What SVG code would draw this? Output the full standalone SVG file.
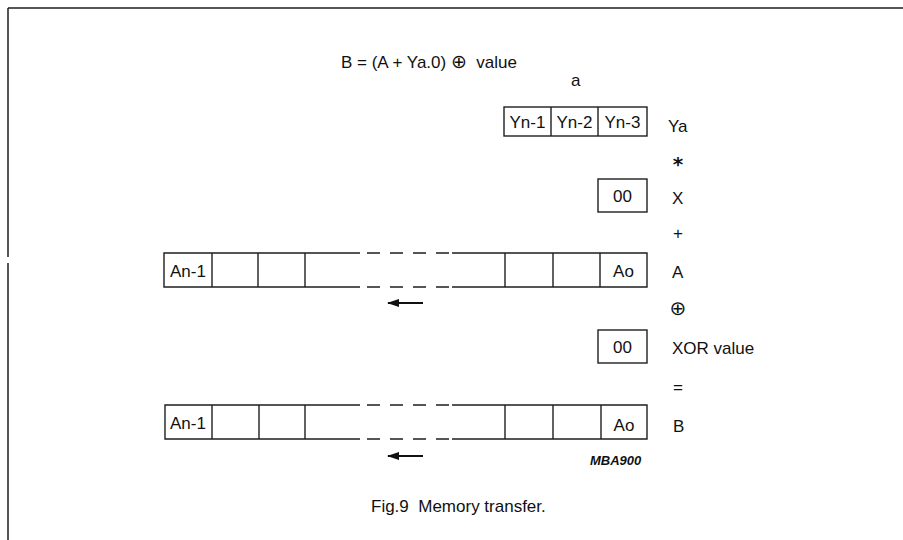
<svg xmlns="http://www.w3.org/2000/svg" width="903" height="540" viewBox="0 0 903 540">
<style>
  .frame { stroke: #1e1e1e; stroke-width: 1.5; fill: none; }
  .box { stroke: #1e1e1e; stroke-width: 1.4; fill: #ffffff; }
  .ln { stroke: #1e1e1e; stroke-width: 1.4; fill: none; }
  .dash { stroke: #1e1e1e; stroke-width: 1.4; fill: none; stroke-dasharray: 13 10; }
  .t { font-family: "Liberation Sans", Arial, "DejaVu Sans", sans-serif; font-size: 17px; fill: #111; white-space: pre; }
  .c { text-anchor: middle; }
  .sym { font-family: "DejaVu Sans", "Liberation Sans", sans-serif; font-size: 20px; fill: #111; text-anchor: middle; }
  .code { font-family: "Liberation Sans", Arial, sans-serif; font-size: 13px; font-weight: bold; font-style: italic; fill: #111; }
  .arrow { stroke: #111; stroke-width: 2; fill: none; marker-end: url(#ah); }
</style>
<defs>
  <marker id="ah" viewBox="0 0 12 8" refX="11" refY="4" markerWidth="12" markerHeight="8" markerUnits="userSpaceOnUse" orient="auto">
    <path d="M0,0 L12,4 L0,8 Z" fill="#111"/>
  </marker>
</defs>
<rect width="903" height="540" fill="#ffffff"/>
<g id="frame">
  <line class="frame" x1="8" y1="8" x2="903" y2="8"/>
  <line class="frame" x1="8" y1="8" x2="8" y2="257"/>
  <line class="frame" x1="8" y1="263" x2="8" y2="540"/>
</g>
<g id="formula">
  <text class="t" x="341" y="68" xml:space="preserve">B = (A + Ya.0) <tspan font-family="DejaVu Sans, sans-serif" font-size="19">⊕</tspan>  value</text>
  <text class="t" x="571" y="86">a</text>
</g>
<g id="reg-Y">
  <rect class="box" x="504" y="107" width="143" height="29"/>
  <line class="ln" x1="551" y1="107" x2="551" y2="136"/>
  <line class="ln" x1="598" y1="107" x2="598" y2="136"/>
  <text class="t c" x="527.5" y="128">Yn-1</text>
  <text class="t c" x="574.5" y="128">Yn-2</text>
  <text class="t c" x="622.5" y="128">Yn-3</text>
</g>
<g id="box-X">
  <rect class="box" x="598" y="179" width="49" height="33"/>
  <text class="t c" x="622.5" y="202">00</text>
</g>
<g id="reg-A">
  <path class="ln" d="M360,253 H164 V287 H360"/>
  <line class="dash" x1="367" y1="253" x2="452" y2="253"/>
  <line class="dash" x1="367" y1="287" x2="452" y2="287"/>
  <path class="ln" d="M452,253 H647 V287 H452"/>
  <line class="ln" x1="212" y1="253" x2="212" y2="287"/>
  <line class="ln" x1="258" y1="253" x2="258" y2="287"/>
  <line class="ln" x1="305" y1="253" x2="305" y2="287"/>
  <line class="ln" x1="505" y1="253" x2="505" y2="287"/>
  <line class="ln" x1="553" y1="253" x2="553" y2="287"/>
  <line class="ln" x1="600" y1="253" x2="600" y2="287"/>
  <text class="t c" x="188" y="277">An-1</text>
  <text class="t c" x="623.5" y="277">Ao</text>
</g>
<g id="box-XOR">
  <rect class="box" x="598" y="330" width="49" height="33"/>
  <text class="t c" x="622.5" y="353">00</text>
</g>
<g id="reg-B">
  <path class="ln" d="M360,405 H165 V439 H360"/>
  <line class="dash" x1="367" y1="405" x2="452" y2="405"/>
  <line class="dash" x1="367" y1="439" x2="452" y2="439"/>
  <path class="ln" d="M452,405 H647 V439 H452"/>
  <line class="ln" x1="212" y1="405" x2="212" y2="439"/>
  <line class="ln" x1="259" y1="405" x2="259" y2="439"/>
  <line class="ln" x1="305" y1="405" x2="305" y2="439"/>
  <line class="ln" x1="505" y1="405" x2="505" y2="439"/>
  <line class="ln" x1="553" y1="405" x2="553" y2="439"/>
  <line class="ln" x1="601" y1="405" x2="601" y2="439"/>
  <text class="t c" x="188" y="429">An-1</text>
  <text class="t c" x="624" y="431">Ao</text>
</g>
<g id="labels">
  <text class="t" x="668" y="132">Ya</text>
  <text class="sym" x="678" y="171" font-size="16" font-weight="bold">*</text>
  <text class="t" x="672" y="204">X</text>
  <text class="t c" x="678" y="239">+</text>
  <text class="t" x="672" y="278">A</text>
  <text class="sym" x="678" y="315">⊕</text>
  <text class="t" x="672" y="354">XOR value</text>
  <text class="t c" x="678" y="393">=</text>
  <text class="t" x="673" y="432">B</text>
  <text class="code" x="590" y="465">MBA900</text>
</g>
<g id="connectors">
  <line class="arrow" x1="423" y1="303" x2="388" y2="303"/>
  <line class="arrow" x1="423" y1="456" x2="388" y2="456"/>
</g>
<g id="caption">
  <text class="t" x="371" y="512" xml:space="preserve">Fig.9  Memory transfer.</text>
</g>
</svg>
